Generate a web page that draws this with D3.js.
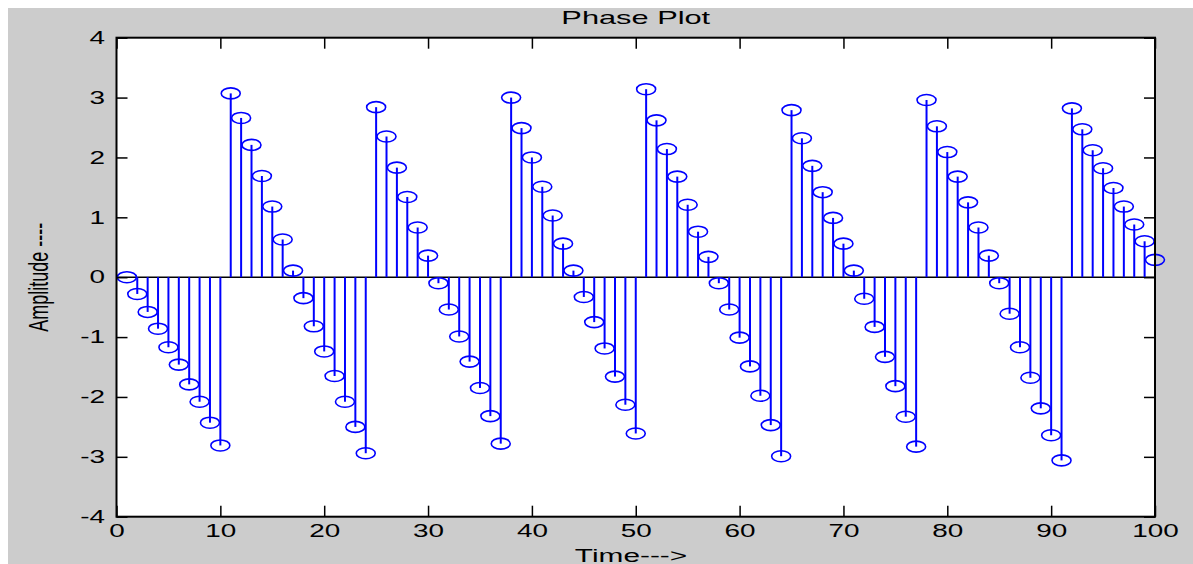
<!DOCTYPE html>
<html>
<head>
<meta charset="utf-8">
<script src="https://cdn.jsdelivr.net/npm/d3@7"></script>
<style>
  html, body { margin: 0; padding: 0; background: #ffffff; }
  svg { display: block; }
  text { font-family: "Liberation Sans", Arial, sans-serif; fill: #000; }
</style>
</head>
<body>
<svg id="chart" width="1193" height="564"></svg>
<script>
// ---- data ----
const sampleIndex = d3.range(1, 101); // n = 1 .. 100
const phaseValues = [
  0, -0.28, -0.58, -0.86, -1.17, -1.46, -1.79, -2.08, -2.43, -2.81,
  3.07, 2.66, 2.21, 1.69, 1.18, 0.63, 0.11, -0.35, -0.82, -1.24,
  -1.65, -2.08, -2.50, -2.94, 2.84, 2.35, 1.83, 1.34, 0.83, 0.36,
  -0.10, -0.54, -0.99, -1.41, -1.85, -2.32, -2.78, 3.00, 2.49, 2.00,
  1.51, 1.03, 0.56, 0.11, -0.33, -0.75, -1.19, -1.66, -2.13, -2.61,
  3.14, 2.62, 2.14, 1.68, 1.21, 0.76, 0.34, -0.10, -0.54, -1.01,
  -1.49, -1.98, -2.47, -2.99, 2.79, 2.32, 1.86, 1.42, 0.99, 0.56,
  0.11, -0.36, -0.83, -1.33, -1.82, -2.33, -2.83, 2.96, 2.52, 2.09,
  1.68, 1.25, 0.83, 0.36, -0.10, -0.61, -1.17, -1.68, -2.19, -2.64,
  -3.06, 2.82, 2.47, 2.12, 1.82, 1.49, 1.18, 0.88, 0.60, 0.29
];
const xTicks = [0, 10, 20, 30, 40, 50, 60, 70, 80, 90, 100];
const yTicks = [-4, -3, -2, -1, 0, 1, 2, 3, 4];
const titleText = "Phase Plot";
const xLabelText = "Time--->";
const yLabelText = "Amplitude ----";

// ---- layout ----
const W = 1193, H = 564;
const plot = { left: 116.5, right: 1155, top: 37.7, bottom: 516.7 };
const SX = 1.55; // horizontal text stretch seen in the reference
const svg = d3.select("#chart");

svg.append("rect").attr("x", 8).attr("y", 8).attr("width", W - 8).attr("height", H - 8)
  .attr("fill", "#cccccc");
svg.append("rect").attr("x", plot.left).attr("y", plot.top)
  .attr("width", plot.right - plot.left).attr("height", plot.bottom - plot.top)
  .attr("fill", "#ffffff");

const x = d3.scaleLinear().domain([0, 100]).range([plot.left, plot.right]);
const y = d3.scaleLinear().domain([-4, 4]).range([plot.bottom, plot.top]);

const data = sampleIndex.map((n, i) => ({ n, v: phaseValues[i] }));

// zero baseline
svg.append("line")
  .attr("x1", x(0)).attr("x2", x(100)).attr("y1", y(0)).attr("y2", y(0))
  .attr("stroke", "#000").attr("stroke-width", 1.5);

// stems
svg.append("g").selectAll("line").data(data).join("line")
  .attr("x1", d => x(d.n)).attr("x2", d => x(d.n))
  .attr("y1", y(0)).attr("y2", d => y(d.v))
  .attr("stroke", "#0000ff").attr("stroke-width", 2);

// markers (open circles, stretched like the reference)
svg.append("g").selectAll("ellipse").data(data).join("ellipse")
  .attr("cx", d => x(d.n)).attr("cy", d => y(d.v))
  .attr("rx", 9.5).attr("ry", 5.5)
  .attr("fill", "none").attr("stroke", "#0000ff").attr("stroke-width", 1.6);

// axes
const tickLen = 11;
const gB = svg.append("g").attr("transform", `translate(0,${plot.bottom})`)
  .call(d3.axisBottom(x).tickValues(xTicks).tickSizeInner(-tickLen).tickSizeOuter(0).tickPadding(8)
    .tickFormat(d => String(d)));
const gT = svg.append("g").attr("transform", `translate(0,${plot.top})`)
  .call(d3.axisTop(x).tickValues(xTicks).tickSizeInner(-tickLen).tickSizeOuter(0).tickFormat(""));
const gL = svg.append("g").attr("transform", `translate(${plot.left},0)`)
  .call(d3.axisLeft(y).tickValues(yTicks).tickSizeInner(-tickLen).tickSizeOuter(0)
    .tickFormat(d => String(d)));
const gR = svg.append("g").attr("transform", `translate(${plot.right},0)`)
  .call(d3.axisRight(y).tickValues(yTicks).tickSizeInner(-tickLen).tickSizeOuter(0).tickFormat(""));

[gB, gT, gL, gR].forEach(g => {
  g.select(".domain").remove();
  g.selectAll(".tick line").attr("stroke", "#000").attr("stroke-width", 1.5);
});
gB.selectAll(".tick text")
  .attr("font-size", 18).attr("font-family", "Liberation Sans, Arial, sans-serif")
  .attr("fill", "#000")
  .attr("transform", `scale(${SX},1)`);
gL.selectAll(".tick text")
  .attr("font-size", 18).attr("font-family", "Liberation Sans, Arial, sans-serif")
  .attr("fill", "#000")
  .attr("x", -11.5 / SX)
  .attr("transform", `scale(${SX},1)`);

// frame
svg.append("rect").attr("x", plot.left).attr("y", plot.top)
  .attr("width", plot.right - plot.left).attr("height", plot.bottom - plot.top)
  .attr("fill", "none").attr("stroke", "#000").attr("stroke-width", 2);

// title
svg.append("g").attr("transform", `translate(${(plot.left + plot.right) / 2},24) scale(1.62,1)`)
  .append("text").attr("text-anchor", "middle").attr("font-size", 19).text(titleText);

// x label
svg.append("g").attr("transform", `translate(631,561.5) scale(1.57,1)`)
  .append("text").attr("text-anchor", "middle").attr("font-size", 19).text(xLabelText);

// y label
svg.append("g").attr("transform", `translate(48,${y(0)}) scale(1.55,1) rotate(-90)`)
  .append("text").attr("text-anchor", "middle").attr("font-size", 18).text(yLabelText);
</script>
</body>
</html>
